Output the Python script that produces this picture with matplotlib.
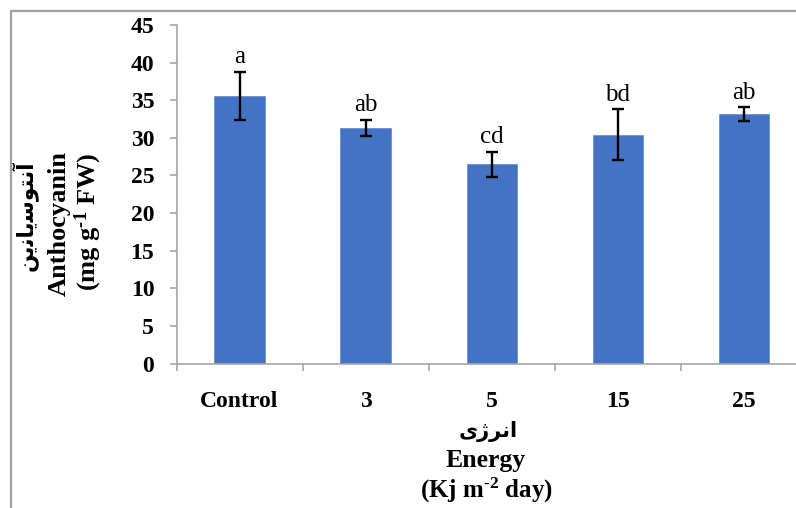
import matplotlib
matplotlib.use("Agg")
import matplotlib.pyplot as plt
from matplotlib.lines import Line2D

plt.rcParams['font.family'] = ['Liberation Serif', 'DejaVu Sans']
plt.rcParams['mathtext.fontset'] = 'custom'
plt.rcParams['mathtext.rm'] = 'Liberation Serif:bold'
plt.rcParams['mathtext.bf'] = 'Liberation Serif:bold'
plt.rcParams['mathtext.it'] = 'Liberation Serif:bold:italic'
plt.rcParams['mathtext.default'] = 'rm'

categories = ["Control", "3", "5", "15", "25"]
values = [35.6, 31.3, 26.5, 30.4, 33.2]
errors = [3.2, 1.1, 1.65, 3.4, 0.9]
letters = ["a", "ab", "cd", "bd", "ab"]
y_ticks = [0, 5, 10, 15, 20, 25, 30, 35, 40, 45]

# Persian labels (shaped presentation forms in visual order)
fa_ylabel = "\uFEE6\uFBFE\uFEE7\uFE8E\uFBFE\uFEB3\uFEEE\uFE98\uFEE7\uFE81"  # آنتوسیانین
fa_xlabel = "\uFBFC\uFB8A\uFEAE\uFEE7\uFE8D"  # انرژی

W, H = 796, 508
fig = plt.figure(figsize=(W / 100, H / 100), dpi=100)
ax = fig.add_axes([176.5 / W, (H - 363.5) / H, (807 - 176.5) / W, (363.5 - 25) / H])

x = list(range(len(categories)))
ax.bar(x, values, width=0.4, color="#4472C4", edgecolor="#6B8FD3", linewidth=0.6, zorder=2)
ax.errorbar(x, values, yerr=errors, fmt="none", ecolor="black", elinewidth=1.7,
            capsize=4.3, capthick=1.7, zorder=3)
for xi, v, e, lab in zip(x, values, errors, letters):
    ax.annotate(lab, (xi, v + e), xytext=(0, 6), textcoords="offset points",
                ha="center", va="baseline", fontsize=18, family="Liberation Serif")

ax.set_xlim(-0.5, len(categories) - 0.5)
ax.set_ylim(0, 45)
ax.set_yticks(y_ticks)
ax.set_yticklabels([str(t) for t in y_ticks], fontsize=17, fontweight="bold")
ax.set_xticks(x)
ax.set_xticklabels(categories, fontsize=17, fontweight="bold")
ax.set_xticks([i - 0.5 for i in range(len(categories) + 1)], minor=True)

for s in ["top", "right"]:
    ax.spines[s].set_visible(False)
for s in ["left", "bottom"]:
    ax.spines[s].set_color("#A6A6A6")
    ax.spines[s].set_linewidth(1.2)
ax.tick_params(axis="y", which="major", direction="out", length=5, width=1.2,
               color="#A6A6A6", pad=11)
ax.tick_params(axis="x", which="major", length=0, pad=20)
ax.tick_params(axis="x", which="minor", direction="out", length=5, width=1.2,
               color="#A6A6A6")

# y label (three rotated lines)
fig.text(24 / W, 1 - 216 / H, fa_ylabel, rotation=90, ha="center", va="center",
         fontsize=15.5, fontweight="bold", family=["DejaVu Sans"])
fig.text(59 / W, 1 - 224 / H, "Anthocyanin", rotation=90, ha="center", va="center",
         fontsize=19, fontweight="bold")
fig.text(88 / W, 1 - 222 / H, "(mg g$^{\u20101}$ FW)", rotation=90, ha="center", va="center",
         fontsize=19, fontweight="bold")

# x label (three lines)
fig.text(488 / W, 1 - 431 / H, fa_xlabel, ha="center", va="center",
         fontsize=15, fontweight="bold", family=["DejaVu Sans"])
fig.text(486 / W, 1 - 461 / H, "Energy", ha="center", va="center",
         fontsize=18.5, fontweight="bold")
fig.text(486 / W, 1 - 490 / H, "(Kj m$^{\u20102}$ day)", ha="center", va="center",
         fontsize=18, fontweight="bold")

# chart-area border (left and top visible)
fig.add_artist(Line2D([10.5 / W, 10.5 / W, 1.0], [0.0, 1 - 11 / H, 1 - 11 / H],
                      transform=fig.transFigure, color="#A0A0A0", linewidth=1.6))

fig.savefig("out.png", dpi=100)
